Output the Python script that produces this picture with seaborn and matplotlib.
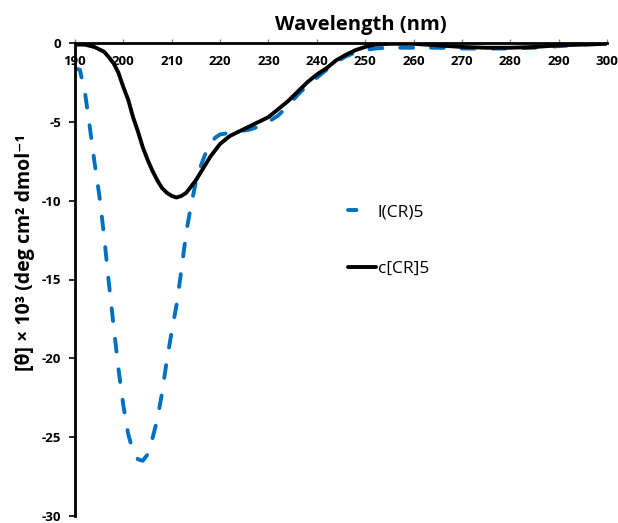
import numpy as np
import pandas as pd
import matplotlib
matplotlib.use("Agg")
import matplotlib.pyplot as plt
import seaborn as sns

# ---- data ----
wl_linear = [190, 191, 192, 193, 194, 195, 196, 197, 198, 199, 200, 201, 202, 203, 204,
             205, 206, 207, 208, 209, 210, 211, 212, 213, 214, 215, 216, 217, 218, 219,
             220, 222, 224, 226, 228, 230, 232, 234, 236, 238, 240, 242, 244, 246, 248,
             250, 252, 255, 260, 265, 270, 275, 280, 285, 290, 295, 300]
theta_linear = [-1.6, -1.7, -3.0, -5.2, -7.5, -9.6, -12.2, -15.2, -18.0, -20.7, -23.0, -24.8,
                -25.9, -26.4, -26.5, -26.1, -25.1, -23.9, -22.2, -20.1, -18.3, -16.6, -14.4,
                -12.0, -10.3, -8.8, -7.8, -7.0, -6.4, -6.0, -5.8, -5.7, -5.6, -5.5, -5.3,
                -5.0, -4.6, -4.0, -3.3, -2.7, -2.2, -1.7, -1.2, -0.85, -0.6, -0.45, -0.35,
                -0.3, -0.3, -0.3, -0.35, -0.35, -0.35, -0.3, -0.2, -0.1, -0.05]

wl_cyclic = [190, 192, 194, 196, 197, 198, 199, 200, 201, 202, 203, 204, 205, 206, 207,
             208, 209, 210, 211, 212, 213, 214, 215, 216, 217, 218, 219, 220, 222, 224,
             226, 228, 230, 232, 234, 236, 238, 240, 242, 244, 246, 248, 250, 252, 255,
             260, 265, 270, 275, 280, 285, 290, 295, 300]
theta_cyclic = [-0.1, -0.1, -0.25, -0.55, -0.9, -1.3, -1.9, -2.8, -3.6, -4.7, -5.6, -6.6,
                -7.4, -8.1, -8.7, -9.2, -9.5, -9.7, -9.8, -9.7, -9.5, -9.1, -8.7, -8.2,
                -7.7, -7.2, -6.8, -6.4, -5.9, -5.6, -5.3, -5.0, -4.7, -4.2, -3.7, -3.1,
                -2.5, -2.0, -1.6, -1.1, -0.75, -0.45, -0.25, -0.1, -0.05, -0.05, -0.15,
                -0.25, -0.3, -0.3, -0.25, -0.15, -0.1, -0.05]

series_names = ["l(CR)5", "c[CR]5"]
x_ticks = list(range(190, 301, 10))
y_ticks = list(range(-30, 1, 5))

sns.set_theme(style="white")
plt.rcParams['font.family'] = ['Open Sans', 'DejaVu Sans']
plt.rcParams['text.color'] = 'black'
plt.rcParams['xtick.color'] = 'black'
plt.rcParams['ytick.color'] = 'black'

fig = plt.figure(figsize=(6.18, 5.23), dpi=100)
ax = fig.add_axes([75/618, 1-516/523, (607-75)/618, (516-43)/523])

sns.lineplot(x=wl_linear, y=theta_linear, ax=ax, color="#0070C0", linewidth=2.8,
             label=series_names[0])
ax.lines[-1].set_dashes((3.3, 4.6))
ax.lines[-1].set_dash_capstyle('round')
sns.lineplot(x=wl_cyclic, y=theta_cyclic, ax=ax, color="black", linewidth=2.8,
             label=series_names[1])

ax.set_xlim(190, 300)
ax.set_ylim(-30, 0)
ax.set_xticks(x_ticks)
ax.set_yticks(y_ticks)
ax.set_xticklabels([str(t) for t in x_ticks], fontweight='bold', fontsize=9.5)
ax.set_yticklabels([str(t) for t in y_ticks], fontweight='bold', fontsize=9.5)

for s in ['right', 'bottom']:
    ax.spines[s].set_visible(False)
for s in ['left', 'top']:
    ax.spines[s].set_color('black')
    ax.spines[s].set_linewidth(2.0)

ax.xaxis.tick_top()
ax.tick_params(axis='x', which='both', top=True, bottom=False, labeltop=True,
               labelbottom=False, direction='out', length=3, width=1, color='#888888',
               pad=-21)
ax.tick_params(axis='y', which='both', left=True, direction='out', length=4, width=1.2,
               color='black', pad=6)
ax.grid(False)

ax.set_xlabel("")
ax.set_ylabel("")
fig.text(361/618, 1-25/523, "Wavelength (nm)", ha='center', va='center',
         fontsize=14.5, fontweight='bold')
fig.text(25/618, 1-253/523, "[θ] × 10³ (deg cm² dmol⁻¹", ha='center', va='center',
         rotation=90, fontsize=14, fontweight='bold')

handles, labels = ax.get_legend_handles_labels()
leg = ax.legend(handles, labels, loc='upper left', bbox_to_anchor=(348/618, 1-204/523),
                bbox_transform=fig.transFigure, frameon=False, fontsize=12.5,
                handlelength=1.6, handletextpad=0.1, labelspacing=2.35,
                borderpad=0, borderaxespad=0)
leg.get_lines()[0].set_dashes((2.2, 10))

fig.savefig("out.png", dpi=100)
